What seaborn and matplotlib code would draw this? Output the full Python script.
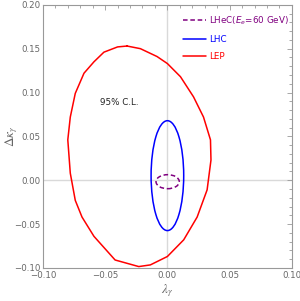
import numpy as np
import matplotlib
matplotlib.use("Agg")
import matplotlib.pyplot as plt
import seaborn as sns
from matplotlib.patches import Ellipse
from matplotlib.lines import Line2D
from matplotlib.ticker import MultipleLocator, FuncFormatter

# LEP 95% C.L. contour
lep_lambda = [-0.0324, -0.040, -0.051, -0.059, -0.067, -0.074, -0.078, -0.080,
              -0.078, -0.074, -0.0686, -0.059, -0.042, -0.023, -0.0137, 0.0,
              0.0131, 0.0239, 0.0319, 0.035, 0.0346, 0.029, 0.021, 0.0105,
              0.0, -0.0083, -0.0217, -0.0324]
lep_dkappa = [0.153, 0.152, 0.146, 0.135, 0.122, 0.099, 0.072, 0.046,
              0.008, -0.023, -0.042, -0.064, -0.091, -0.0985, -0.0966, -0.087,
              -0.068, -0.042, -0.011, 0.023, 0.046, 0.072, 0.095, 0.118,
              0.133, 0.141, 0.150, 0.153]

# ellipses: centre (lambda, dkappa), full width, full height
lhc_center = (0.0, 0.0052)
lhc_size = (0.0262, 0.1253)
lhec_center = (0.0002, -0.0017)
lhec_size = (0.0187, 0.016)

labels = [r"LHeC($E_e$=60 GeV)", "LHC", "LEP"]
colors = ["#800080", "#0000ff", "#ff0000"]

sns.set_style("white")
fig = plt.figure(figsize=(3.0, 3.01), dpi=100)
ax = fig.add_axes([0.143, 0.110, 0.830, 0.874])

ax.axhline(0, color="#d9d9d9", lw=1.0, zorder=0)
ax.axvline(0, color="#d9d9d9", lw=1.0, zorder=0)

sns.lineplot(x=lep_lambda, y=lep_dkappa, sort=False, estimator=None,
             color=colors[2], lw=1.1, ax=ax)
ax.add_patch(Ellipse(lhc_center, lhc_size[0], lhc_size[1], fill=False,
                     edgecolor=colors[1], lw=1.1))
ax.add_patch(Ellipse(lhec_center, lhec_size[0], lhec_size[1], fill=False,
                     edgecolor=colors[0], lw=1.1, ls=(0, (3, 1.8))))

ax.text(-0.039, 0.089, "95% C.L.", fontsize=6.3, ha="center", va="center", color="#222222")

ax.set_xlim(-0.10, 0.10)
ax.set_ylim(-0.10, 0.20)
fmt = FuncFormatter(lambda v, p: f"{v:.2f}".replace("-", "\u2212"))
for a in (ax.xaxis, ax.yaxis):
    a.set_major_locator(MultipleLocator(0.05))
    a.set_minor_locator(MultipleLocator(0.01))
    a.set_major_formatter(fmt)
ax.tick_params(which="both", direction="in", top=True, right=True, color="#999999",
               labelcolor="#666666", labelsize=6.2, pad=2, width=0.6)
ax.tick_params(which="major", length=3.5)
ax.tick_params(which="minor", length=2)
for s in ax.spines.values():
    s.set_color("#999999")
    s.set_linewidth(0.8)

ax.set_xlabel(r"$\lambda_\gamma$", fontsize=9.5, color="#666666",
              math_fontfamily="stix", va="center", ha="center")
ax.set_ylabel(r"$\Delta\kappa_\gamma$", fontsize=9.5, color="#666666",
              math_fontfamily="stix", va="center", ha="center")
ax.xaxis.set_label_coords(0.5, -0.085)
ax.yaxis.set_label_coords(-0.125, 0.5)

handles = [Line2D([], [], color=colors[0], lw=1.1, ls=(0, (3, 1.8))),
           Line2D([], [], color=colors[1], lw=1.1),
           Line2D([], [], color=colors[2], lw=1.1)]
leg = ax.legend(handles, labels, loc="upper right", bbox_to_anchor=(1.01, 0.985),
                frameon=False, fontsize=6.3, handlelength=2.6, handletextpad=0.4,
                labelspacing=0.95, borderaxespad=0.2)
for t, c in zip(leg.get_texts(), colors):
    t.set_color(c)

fig.savefig("out.png", dpi=100)
